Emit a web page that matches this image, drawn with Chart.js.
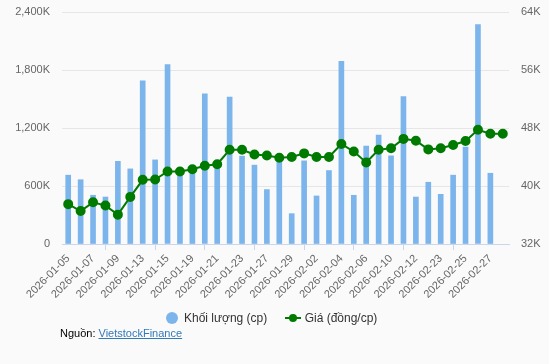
<!DOCTYPE html>
<html>
<head>
<meta charset="utf-8">
<script src="https://cdn.jsdelivr.net/npm/chart.js@4/dist/chart.umd.min.js"></script>
<style>
  body { margin: 0; background: #fafafa; font-family: "Liberation Sans", Arial, sans-serif; }
  #wrap { position: relative; width: 549px; height: 364px; }
  #legend { position: absolute; top: 310px; left: 166px; font-size: 12px; color: #333; white-space: nowrap; }
  #legend .item { display: inline-block; vertical-align: middle; }
  .dot { display: inline-block; width: 12px; height: 12px; border-radius: 50%; background: #7cb5ec; vertical-align: -2px; margin-right: 6px; }
  .lin { display: inline-block; position: relative; width: 16px; height: 12px; vertical-align: -2px; margin: 0 4px 0 14px; }
  .lin::before { content: ""; position: absolute; left: 0; right: 0; top: 5px; height: 2px; background: #007a00; }
  .lin::after { content: ""; position: absolute; left: 4px; top: 2px; width: 8px; height: 8px; border-radius: 50%; background: #007a00; }
  #source { position: absolute; top: 327px; left: 60px; font-size: 11px; color: #000; }
  #source a { color: #337ab7; text-decoration: underline; }
</style>
</head>
<body>
<div id="wrap">
  <canvas id="chart" width="549" height="364"></canvas>
  <div id="legend">
    <span class="item"><span class="dot"></span>Khối lượng (cp)</span>
    <span class="item"><span class="lin"></span>Giá (đồng/cp)</span>
  </div>
  <div id="source">Nguồn: <a href="#">VietstockFinance</a></div>
</div>
<script>
const dates = [
  '2026-01-05', '2026-01-06', '2026-01-07', '2026-01-08', '2026-01-09',
  '2026-01-12', '2026-01-13', '2026-01-14', '2026-01-15', '2026-01-16',
  '2026-01-19', '2026-01-20', '2026-01-21', '2026-01-22', '2026-01-23',
  '2026-01-26', '2026-01-27', '2026-01-28', '2026-01-29', '2026-01-30',
  '2026-02-02', '2026-02-03', '2026-02-04', '2026-02-05', '2026-02-06',
  '2026-02-09', '2026-02-10', '2026-02-11', '2026-02-12', '2026-02-13',
  '2026-02-23', '2026-02-24', '2026-02-25', '2026-02-26', '2026-02-27',
  '2026-03-02'
];

// khối lượng (cp)
const volume = [
  712000, 665000, 504000, 486000, 855000,
  777000, 1688000, 870000, 1855000, 750000,
  760000, 1553000, 800000, 1519000, 909000,
  816000, 563000, 870000, 314000, 860000,
  497000, 760000, 1889000, 504000, 1013000,
  1127000, 912000, 1525000, 486000, 639000,
  514000, 712000, 1003000, 2270000, 732000,
  null
];

// giá (đồng/cp)
const price = [
  37500, 36550, 37750, 37300, 36050,
  38500, 40850, 40900, 42000, 42000,
  42300, 42800, 43000, 45000, 45000,
  44350, 44200, 43900, 44000, 44500,
  44000, 44000, 45800, 44750, 43250,
  45000, 45200, 46500, 46250, 45050,
  45200, 45650, 46200, 47750, 47200,
  47200
];

const leftTicks = [0, 600000, 1200000, 1800000, 2400000];
const rightTicks = [32000, 40000, 48000, 56000, 64000];

const tickFont = { family: '"Liberation Sans", Arial, sans-serif', size: 11 };

new Chart(document.getElementById('chart'), {
  data: {
    labels: dates,
    datasets: [
      {
        type: 'line',
        label: 'Giá (đồng/cp)',
        data: price,
        yAxisID: 'y1',
        borderColor: '#007a00',
        backgroundColor: '#007a00',
        borderWidth: 2,
        pointRadius: 4,
        pointHoverRadius: 4,
        tension: 0,
        order: 0
      },
      {
        type: 'bar',
        label: 'Khối lượng (cp)',
        data: volume,
        yAxisID: 'y',
        backgroundColor: '#7cb5ec',
        barThickness: 5,
        order: 1
      }
    ]
  },
  options: {
    responsive: false,
    animation: false,
    layout: { padding: { top: 12, left: 0, right: 0, bottom: 0 } },
    plugins: { legend: { display: false }, tooltip: { enabled: false } },
    scales: {
      x: {
        offset: true,
        afterFit: s => { s.height = 120; },
        grid: {
          drawOnChartArea: false,
          drawTicks: true,
          tickLength: 6,
          color: ctx => (ctx.index % 2 === 0 && ctx.index < 35) ? '#ccd6eb' : 'rgba(0,0,0,0)'
        },
        border: { color: '#ccd6eb' },
        ticks: {
          autoSkip: false,
          maxRotation: 45,
          minRotation: 45,
          padding: 2,
          color: '#666',
          font: tickFont,
          callback: function (v, i) { return i % 2 === 0 ? this.getLabelForValue(v) : null; }
        }
      },
      y: {
        position: 'left',
        min: leftTicks[0],
        max: leftTicks[leftTicks.length - 1],
        afterFit: s => { s.width = 62; s.paddingTop = 0; s.paddingBottom = 0; },
        afterBuildTicks: s => { s.ticks = leftTicks.map(v => ({ value: v })); },
        grid: { color: '#e6e6e6', drawTicks: false },
        border: { display: false },
        ticks: {
          padding: 12,
          color: '#666',
          font: tickFont,
          callback: v => v === 0 ? '0' : (v / 1000).toLocaleString('en-US') + 'K'
        }
      },
      y1: {
        position: 'right',
        min: rightTicks[0],
        max: rightTicks[rightTicks.length - 1],
        afterFit: s => { s.width = 40; s.paddingTop = 0; s.paddingBottom = 0; },
        afterBuildTicks: s => { s.ticks = rightTicks.map(v => ({ value: v })); },
        grid: { drawOnChartArea: false, drawTicks: false },
        border: { display: false },
        ticks: {
          padding: 12,
          color: '#666',
          font: tickFont,
          callback: v => (v / 1000) + 'K'
        }
      }
    }
  }
});
</script>
</body>
</html>
